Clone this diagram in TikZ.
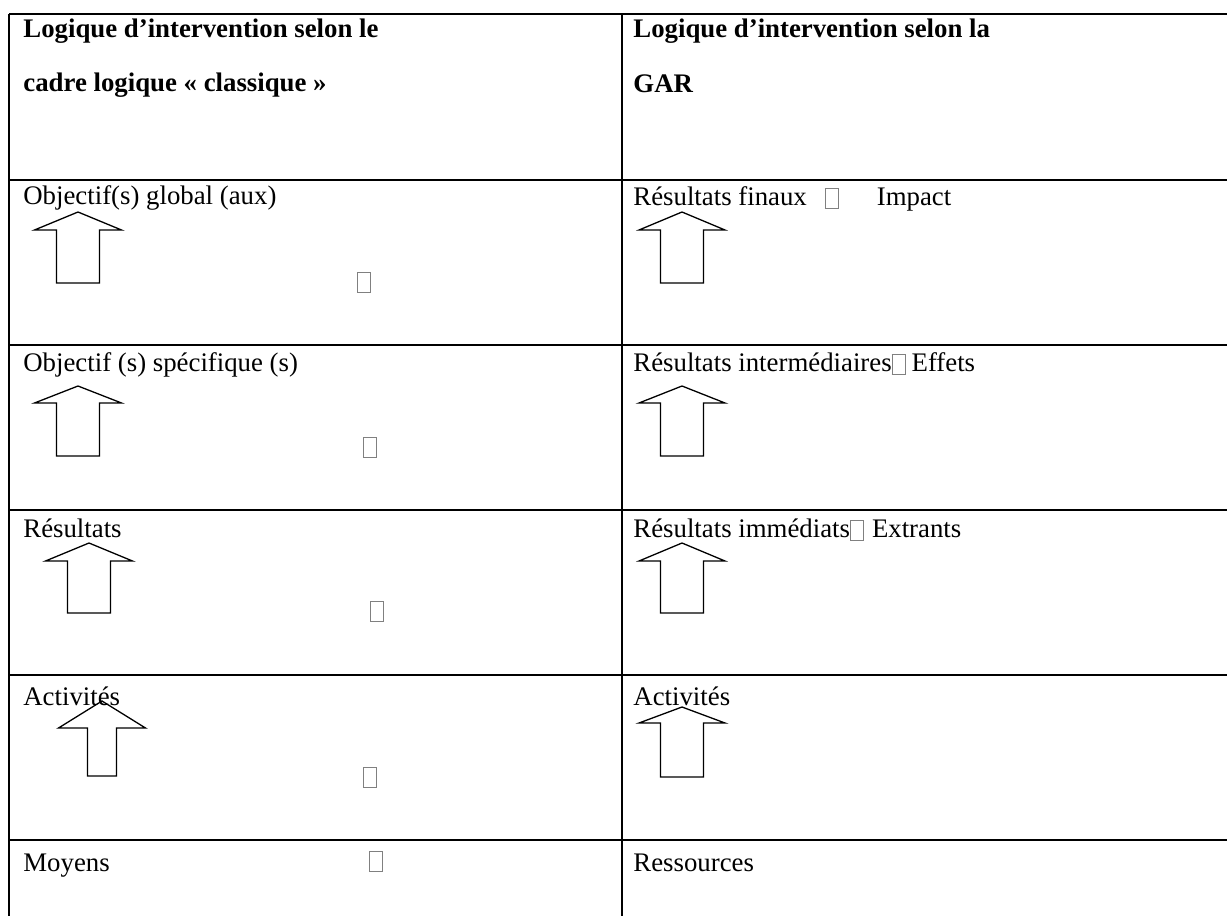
\documentclass[tikz,border=0pt]{standalone}
\usepackage{fontspec}
\setmainfont{Liberation Serif}
\newcommand\nobox{\raisebox{-1.5pt}{\color{gray}\setlength\fboxsep{0pt}\setlength\fboxrule{0.5pt}\fbox{\rule{0pt}{9.5pt}\hspace{6pt}}}}
% tip x, tip y, head height, head half-width, shaft half-width, total length
\newcommand\uparr[6]{%
  \draw[arr] (#1,#2) -- ({#1+#4},{#2+#3}) -- ({#1+#5},{#2+#3}) -- ({#1+#5},{#2+#6})
    -- ({#1-#5},{#2+#6}) -- ({#1-#5},{#2+#3}) -- ({#1-#4},{#2+#3}) -- cycle;}
\begin{document}
\begin{tikzpicture}[x=0.5pt,y=-0.5pt,
  tbl/.style={line width=1pt},
  arr/.style={line width=0.65pt,line join=miter},
  txt/.style={anchor=base west,inner sep=0pt,font=\fontsize{13.4}{16}\selectfont},
  hdr/.style={txt,font=\fontsize{13.4}{16}\selectfont\bfseries}]
\useasboundingbox (0,0) rectangle (1227,916);
\fill[white] (0,0) rectangle (1227,916);
% table rules
\foreach \yy in {14,180,345,510,675,840} \draw[tbl] (9,\yy) -- (1227,\yy);
\draw[tbl] (9,14) -- (9,916);
\draw[tbl] (622,14) -- (622,916);
% header
\node[hdr] (h1a) at (23,37) {Logique d’intervention selon le};
\node[hdr] (h1b) at (23,91) {cadre logique « classique »};
\node[hdr] (h2a) at (633,37) {Logique d’intervention selon la};
\node[hdr] (h2b) at (633,92) {GAR};
% left column
\node[txt] (l1) at (23,204) {Objectif(s) global (aux)};
\node[txt] (l2) at (23,371) {Objectif (s) spécifique (s)};
\node[txt] (l3) at (23,537) {Résultats};
\node[txt] (l4) at (23,705) {Activités};
\node[txt] (l5) at (23,871) {Moyens};
\node[txt] (b1) at (357,289) {\nobox};
\node[txt] (b2) at (363,454) {\nobox};
\node[txt] (b3) at (370,618) {\nobox};
\node[txt] (b4) at (363,784) {\nobox};
\node[txt] (b5) at (369,868) {\nobox};
% right column
\node[txt] (r1) at (633,205) {Résultats finaux\hspace{9pt}\nobox\hspace{19pt}Impact};
\node[txt] (r2) at (633,371) {Résultats intermédiaires\nobox\hspace{3pt}Effets};
\node[txt] (r3) at (633,537) {Résultats immédiats\nobox\hspace{4pt}Extrants};
\node[txt] (r4) at (633,705) {Activités};
\node[txt] (r5) at (633,871) {Ressources};
% arrows
\uparr{78}{212}{18}{43.5}{21.5}{71}
\uparr{78}{386}{17}{43.5}{21.5}{70}
\uparr{89}{543}{18}{43.5}{21.5}{70}
\uparr{102}{701}{27}{43.5}{14.5}{75}
\uparr{682}{212}{18}{43}{21.5}{71}
\uparr{682}{386}{17}{43}{21.5}{70}
\uparr{682}{543}{18}{43}{21.5}{70}
\uparr{682}{707}{16}{43}{21.5}{70}
\end{tikzpicture}
\end{document}
